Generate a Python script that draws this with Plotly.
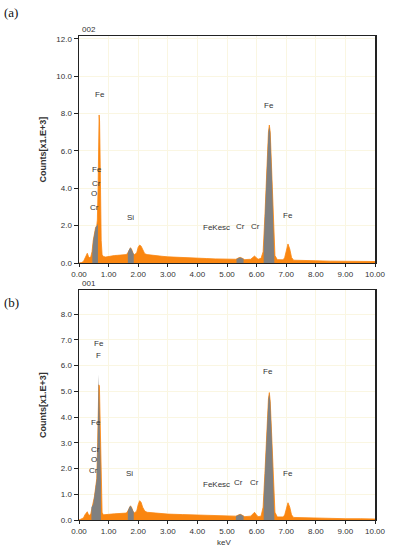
import plotly.graph_objects as go

# ---------------- data: panel (a) ----------------
energy_a = [0.00, 0.08, 0.15, 0.20, 0.25, 0.28, 0.32, 0.36, 0.40, 0.44, 0.48, 0.52, 0.56, 0.60,
            0.62, 0.645, 0.665, 0.68, 0.695, 0.71, 0.73, 0.75, 0.78, 0.82, 0.90, 1.00, 1.10, 1.20,
            1.30, 1.40, 1.50, 1.60, 1.65, 1.70, 1.74, 1.78, 1.83, 1.88, 1.95, 2.00, 2.05, 2.10,
            2.15, 2.22, 2.30, 2.50, 2.80, 3.00, 3.30, 3.60, 4.00, 4.30, 4.60, 5.00, 5.30, 5.40,
            5.45, 5.52, 5.60, 5.80, 5.88, 5.93, 5.98, 6.05, 6.15, 6.22, 6.28, 6.34, 6.40, 6.43,
            6.46, 6.52, 6.57, 6.62, 6.70, 6.90, 6.95, 7.00, 7.06, 7.12, 7.18, 7.25, 7.50, 8.00,
            8.50, 9.00, 9.50, 10.00]
counts_a = [0.0, 0.02, 0.08, 0.25, 0.48, 0.52, 0.35, 0.28, 0.35, 0.6, 1.2, 1.7, 1.9, 2.0,
            2.3, 4.0, 6.5, 7.93, 7.6, 6.0, 3.5, 1.2, 0.45, 0.35, 0.32, 0.36, 0.38, 0.40,
            0.41, 0.43, 0.43, 0.45, 0.55, 0.75, 0.82, 0.72, 0.50, 0.45, 0.55, 0.85, 0.96, 0.90,
            0.70, 0.50, 0.45, 0.40, 0.36, 0.33, 0.30, 0.28, 0.25, 0.24, 0.22, 0.20, 0.20, 0.28,
            0.30, 0.25, 0.18, 0.20, 0.32, 0.37, 0.30, 0.20, 0.25, 0.60, 2.5, 5.0, 7.0, 7.39,
            7.0, 4.5, 2.0, 0.4, 0.18, 0.17, 0.30, 0.70, 1.02, 0.75, 0.30, 0.15, 0.13, 0.12,
            0.10, 0.10, 0.09, 0.08]

# identified (gray) peak areas, panel (a)
gray_a_x = [
    [0.45, 0.45, 0.48, 0.52, 0.56, 0.60, 0.62, 0.64, 0.64],
    [1.65, 1.65, 1.70, 1.74, 1.78, 1.83, 1.85, 1.85],
    [5.32, 5.32, 5.40, 5.45, 5.52, 5.56, 5.56],
    [6.24, 6.24, 6.28, 6.34, 6.40, 6.43, 6.46, 6.52, 6.57, 6.60, 6.60],
]
gray_a_y = [
    [0, 0.55, 1.2, 1.7, 1.9, 2.0, 2.1, 2.1, 0],
    [0, 0.55, 0.75, 0.82, 0.72, 0.50, 0.47, 0],
    [0, 0.20, 0.28, 0.30, 0.25, 0.20, 0],
    [0, 0.9, 2.5, 5.0, 7.0, 7.3, 7.0, 4.5, 2.0, 0.8, 0],
]

labels_a_text = ["Fe", "Fe", "Cr", "O", "Cr", "Si", "FeKesc", "Cr", "Cr", "Fe", "Fe"]
labels_a_x = [0.71, 0.62, 0.60, 0.52, 0.52, 1.74, 4.66, 5.44, 5.95, 6.43, 7.07]
labels_a_y = [9.04, 5.03, 4.27, 3.70, 2.98, 2.45, 1.89, 1.98, 1.98, 8.46, 2.52]

# ---------------- data: panel (b) ----------------
energy_b = [0.00, 0.08, 0.15, 0.20, 0.25, 0.28, 0.32, 0.36, 0.40, 0.44, 0.48, 0.52, 0.56, 0.60,
            0.63, 0.65, 0.67, 0.69, 0.71, 0.73, 0.75, 0.78, 0.82, 0.90, 1.00, 1.20, 1.40, 1.60,
            1.65, 1.70, 1.74, 1.78, 1.83, 1.88, 1.95, 2.00, 2.05, 2.10, 2.15, 2.22, 2.30, 2.60,
            3.00, 3.50, 4.00, 4.50, 5.00, 5.30, 5.40, 5.45, 5.52, 5.60, 5.80, 5.88, 5.93, 5.98,
            6.05, 6.15, 6.22, 6.28, 6.34, 6.40, 6.43, 6.46, 6.52, 6.57, 6.62, 6.70, 6.90, 6.95,
            7.00, 7.06, 7.12, 7.18, 7.25, 7.50, 8.00, 8.50, 9.00, 9.50, 10.00]
counts_b = [0.0, 0.03, 0.08, 0.20, 0.30, 0.32, 0.20, 0.18, 0.25, 0.45, 0.60, 0.90, 1.25, 1.6,
            3.0, 4.5, 5.25, 5.2, 4.2, 3.0, 1.2, 0.30, 0.20, 0.20, 0.22, 0.24, 0.25, 0.27,
            0.35, 0.50, 0.55, 0.48, 0.32, 0.28, 0.35, 0.60, 0.75, 0.68, 0.50, 0.35, 0.30, 0.27,
            0.23, 0.21, 0.19, 0.17, 0.15, 0.15, 0.20, 0.22, 0.18, 0.13, 0.15, 0.25, 0.30, 0.22,
            0.13, 0.15, 0.50, 1.8, 3.4, 4.7, 4.95, 4.6, 3.0, 1.3, 0.30, 0.12, 0.12, 0.20,
            0.45, 0.67, 0.50, 0.20, 0.10, 0.09, 0.08, 0.06, 0.05, 0.05, 0.04]

gray_b_x = [
    [0.42, 0.42, 0.48, 0.52, 0.56, 0.60, 0.63, 0.65, 0.665, 0.68, 0.70, 0.72, 0.74, 0.74],
    [1.65, 1.65, 1.70, 1.74, 1.78, 1.83, 1.85, 1.85],
    [5.30, 5.30, 5.40, 5.45, 5.52, 5.56, 5.56],
    [6.24, 6.24, 6.28, 6.34, 6.40, 6.43, 6.46, 6.52, 6.57, 6.60, 6.60],
]
gray_b_y = [
    [0, 0.5, 0.6, 0.9, 1.25, 1.6, 3.0, 4.8, 5.65, 5.0, 4.0, 2.8, 1.5, 0],
    [0, 0.35, 0.50, 0.55, 0.48, 0.32, 0.30, 0],
    [0, 0.15, 0.20, 0.22, 0.18, 0.14, 0],
    [0, 0.8, 1.8, 3.4, 4.7, 4.9, 4.6, 3.0, 1.3, 0.6, 0],
]

labels_b_text = ["Fe", "F", "Fe", "Cr", "O", "Cr", "Si", "FeKesc", "Cr", "Cr", "Fe", "Fe"]
labels_b_x = [0.66, 0.66, 0.58, 0.56, 0.49, 0.49, 1.71, 4.64, 5.40, 5.93, 6.40, 7.05]
labels_b_y = [6.85, 6.40, 3.79, 2.74, 2.35, 1.94, 1.81, 1.38, 1.46, 1.46, 5.77, 1.81]

x_ticks = [0, 1, 2, 3, 4, 5, 6, 7, 8, 9, 10]
panel_a_name = "002"
panel_b_name = "001"

# ---------------- styling ----------------
ORANGE = "#fa8610"
GRAY = "#808080"
GRID = "#faf6e2"
FONT = "Liberation Sans, Arial, sans-serif"
TXT = "#333333"

fig = go.Figure()

def add_panel(xs, ys, gx, gy, xa, ya):
    fig.add_trace(go.Scatter(x=xs, y=ys, mode="lines", fill="tozeroy",
                             line=dict(color=ORANGE, width=0.8), fillcolor=ORANGE,
                             xaxis=xa, yaxis=ya, hoverinfo="skip", showlegend=False))
    for px, py in zip(gx, gy):
        fig.add_trace(go.Scatter(x=px, y=py, mode="lines", fill="tozeroy",
                                 line=dict(color=GRAY, width=0), fillcolor=GRAY,
                                 xaxis=xa, yaxis=ya, hoverinfo="skip", showlegend=False))

add_panel(energy_a, counts_a, gray_a_x, gray_a_y, "x", "y")
add_panel(energy_b, counts_b, gray_b_x, gray_b_y, "x2", "y2")

xcommon = dict(range=[0, 10], tickvals=x_ticks, tickformat=".2f", showgrid=True,
               gridcolor=GRID, gridwidth=1, zeroline=False, showline=True,
               linecolor="#222", linewidth=1, mirror=True, ticks="outside",
               ticklen=3, tickcolor="#222", tickfont=dict(size=8, color=TXT, family=FONT))
ycommon = dict(tickformat=".1f", showgrid=True, gridcolor=GRID, gridwidth=1,
               zeroline=False, showline=True, linecolor="#222", linewidth=1.5,
               mirror=True, ticks="outside", ticklen=4, tickcolor="#222",
               tickfont=dict(size=8, color=TXT, family=FONT))

fig.update_layout(
    width=398, height=550,
    margin=dict(l=79, r=15, t=36, b=30),
    paper_bgcolor="white", plot_bgcolor="white",
    xaxis=dict(anchor="y", domain=[0, 1], **xcommon),
    yaxis=dict(anchor="x", domain=[0.531, 1], range=[0, 12.16], dtick=2, **ycommon),
    xaxis2=dict(anchor="y2", domain=[0, 1], **xcommon),
    yaxis2=dict(anchor="x2", domain=[0, 0.475], range=[0, 8.93], dtick=1, **ycommon),
    showlegend=False,
)

ann = []
for t, x, y in zip(labels_a_text, labels_a_x, labels_a_y):
    ann.append(dict(text=t, x=x, y=y, xref="x", yref="y", showarrow=False,
                    font=dict(size=8, color=TXT, family=FONT)))
for t, x, y in zip(labels_b_text, labels_b_x, labels_b_y):
    ann.append(dict(text=t, x=x, y=y, xref="x2", yref="y2", showarrow=False,
                    font=dict(size=8, color=TXT, family=FONT)))

# panel ids
ann.append(dict(text=panel_a_name, x=0, y=1, xref="paper", yref="paper", xanchor="left",
                yanchor="bottom", xshift=1, yshift=0, showarrow=False,
                font=dict(size=8, color=TXT, family=FONT)))
ann.append(dict(text=panel_b_name, x=0, y=0.475, xref="paper", yref="paper", xanchor="left",
                yanchor="bottom", xshift=1, yshift=0, showarrow=False,
                font=dict(size=8, color=TXT, family=FONT)))
# y titles
ann.append(dict(text="<b>Counts[x1.E+3]</b>", x=0, y=(0.531 + 1) / 2, xref="paper", yref="paper",
                xanchor="center", yanchor="middle", xshift=-36, textangle=-90, showarrow=False,
                font=dict(size=9, color=TXT, family=FONT)))
ann.append(dict(text="<b>Counts[x1.E+3]</b>", x=0, y=0.475 / 2, xref="paper", yref="paper",
                xanchor="center", yanchor="middle", xshift=-36, textangle=-90, showarrow=False,
                font=dict(size=9, color=TXT, family=FONT)))
# x title
ann.append(dict(text="keV", x=4.9, y=0, xref="x2", yref="paper", xanchor="center",
                yanchor="middle", yshift=-22, showarrow=False,
                font=dict(size=8, color=TXT, family=FONT)))
# (a) (b)
ann.append(dict(text="(a)", x=0, y=1, xref="paper", yref="paper", xanchor="left",
                yanchor="middle", xshift=-77, yshift=24, showarrow=False,
                font=dict(size=13, color="#111", family="Liberation Serif, serif")))
ann.append(dict(text="(b)", x=0, y=0.475, xref="paper", yref="paper", xanchor="left",
                yanchor="middle", xshift=-77, yshift=-12, showarrow=False,
                font=dict(size=13, color="#111", family="Liberation Serif, serif")))

fig.update_layout(annotations=ann)
# remove the default 8px page margin so the 398x550 figure fills the window exactly
fig.write_html("out.html",
               config={"displayModeBar": False, "staticPlot": True},
               post_script="document.body.style.margin='0';document.body.style.overflow='hidden';")
